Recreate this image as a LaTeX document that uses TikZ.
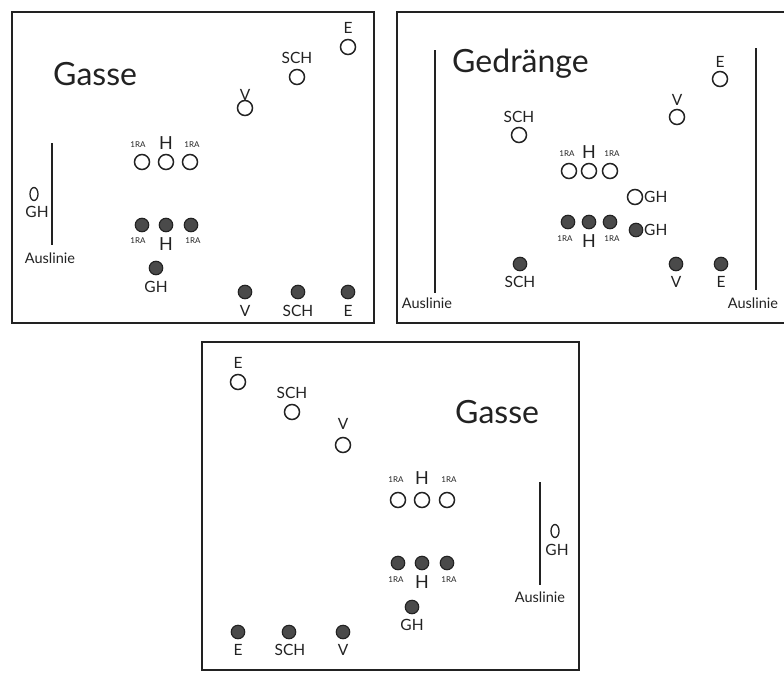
\documentclass[tikz,border=0pt]{standalone}
\usepackage{fontspec}
\setmainfont{Lato}
\definecolor{ink}{HTML}{222222}
\definecolor{dot}{HTML}{4A4A4A}
\tikzset{
  opn/.style={circle,draw=ink,line width=1.5pt,fill=white,minimum size=15pt,inner sep=0pt},
  fld/.style={circle,draw=ink,line width=1.1pt,fill=dot,minimum size=13.5pt,inner sep=0pt},
  oval/.style={ellipse,draw=ink,line width=1.3pt,minimum width=8pt,minimum height=13pt,inner sep=0pt},
  lbl/.style={inner sep=0pt,text=ink,font=\fontsize{15.5}{15.5}\selectfont},
  hl/.style={inner sep=0pt,text=ink,font=\fontsize{18}{18}\selectfont},
  ra/.style={inner sep=0pt,text=ink,font=\fontsize{8}{8}\selectfont},
  aus/.style={inner sep=0pt,text=ink,font=\fontsize{14.5}{14.5}\selectfont},
  ttl/.style={inner sep=0pt,text=ink,anchor=base west,font=\fontsize{32}{32}\selectfont},
  frame/.style={draw=ink,line width=2.4pt},
  aline/.style={draw=ink,line width=2.2pt}
}
\usetikzlibrary{shapes.geometric}
\begin{document}
\begin{tikzpicture}[x=1pt,y=-1pt]
\useasboundingbox (0,0) rectangle (784,672);
\fill[white] (0,0) rectangle (784,672);
\begin{scope}
\clip (0,0) rectangle (784,672);
% ---------- Panel 1 ----------
\draw[frame] (12,12) rectangle (374,323);
\node[ttl] (t1) at (53,85) {Gasse};
\node[lbl] (l1e) at (348,28) {E};
\node[opn] (o1e) at (348,47) {};
\node[lbl] (l1s) at (297,58) {SCH};
\node[opn] (o1s) at (297,77) {};
\node[lbl] (l1v) at (245,95) {V};
\node[opn] (o1v) at (245,108) {};
\node[ra] (l1ra) at (138,145) {1RA};
\node[hl] (l1h) at (166,143) {H};
\node[ra] (l1rb) at (192,145) {1RA};
\node[opn] (o1a) at (142,162) {};
\node[opn] (o1h) at (166,162) {};
\node[opn] (o1b) at (190,162) {};
\coordinate (a1t) at (52,143);
\coordinate (a1b) at (52,245);
\draw[aline] (a1t) -- (a1b);
\node[oval] (o1g) at (34,194) {};
\node[lbl] (l1g) at (37,212) {GH};
\node[aus] (au1) at (50,258) {Auslinie};
\node[fld] (f1a) at (142,225) {};
\node[fld] (f1h) at (166,225) {};
\node[fld] (f1b) at (191,225) {};
\node[ra] (m1ra) at (138,241) {1RA};
\node[hl] (m1h) at (166,244) {H};
\node[ra] (m1rb) at (193,241) {1RA};
\node[fld] (f1g) at (156,268) {};
\node[lbl] (m1g) at (156,287) {GH};
\node[fld] (f1v) at (245,292) {};
\node[fld] (f1s) at (298,292) {};
\node[fld] (f1e) at (348,292) {};
\node[lbl] (m1v) at (245,311) {V};
\node[lbl] (m1s) at (298,311) {SCH};
\node[lbl] (m1e) at (348,311) {E};
% ---------- Panel 2 ----------
\draw[frame] (397,12) rectangle (800,323);
\coordinate (a2t) at (435,50);
\coordinate (a2b) at (435,293);
\draw[aline] (a2t) -- (a2b);
\node[aus] (au2) at (427,303) {Auslinie};
\coordinate (a3t) at (756,48);
\coordinate (a3b) at (756,290);
\draw[aline] (a3t) -- (a3b);
\node[aus] (au3) at (753,303) {Auslinie};
\node[ttl] (t2) at (452,72) {Gedränge};
\node[lbl] (l2e) at (720,62) {E};
\node[opn] (o2e) at (720,79) {};
\node[lbl] (l2v) at (677,100) {V};
\node[opn] (o2v) at (677,117) {};
\node[lbl] (l2s) at (519,117) {SCH};
\node[opn] (o2s) at (519,135) {};
\node[ra] (l2ra) at (567,154) {1RA};
\node[hl] (l2h) at (589,152) {H};
\node[ra] (l2rb) at (612,154) {1RA};
\node[opn] (o2a) at (569,171) {};
\node[opn] (o2h) at (589,171) {};
\node[opn] (o2b) at (610,171) {};
\node[opn] (o2g) at (635,197) {};
\node[lbl,anchor=west] (l2g) at (644,197) {GH};
\node[fld] (f2a) at (568,222) {};
\node[fld] (f2h) at (589,222) {};
\node[fld] (f2b) at (610,222) {};
\node[ra] (m2ra) at (565,239) {1RA};
\node[hl] (m2h) at (589,241) {H};
\node[ra] (m2rb) at (612,239) {1RA};
\node[fld] (f2g) at (636,230) {};
\node[lbl,anchor=west] (m2g) at (644,230) {GH};
\node[fld] (f2s) at (520,264) {};
\node[lbl] (m2s) at (520,282) {SCH};
\node[fld] (f2v) at (676,264) {};
\node[lbl] (m2v) at (676,282) {V};
\node[fld] (f2e) at (721,264) {};
\node[lbl] (m2e) at (721,282) {E};
% ---------- Panel 3 ----------
\draw[frame] (202,342) rectangle (579,670);
\node[lbl] (l3e) at (238,363) {E};
\node[opn] (o3e) at (238,382) {};
\node[lbl] (l3s) at (292,393) {SCH};
\node[opn] (o3s) at (292,412) {};
\node[lbl] (l3v) at (343,424) {V};
\node[opn] (o3v) at (343,445) {};
\node[ttl] (t3) at (455,423) {Gasse};
\node[ra] (l3ra) at (396,480) {1RA};
\node[hl] (l3h) at (422,478) {H};
\node[ra] (l3rb) at (449,480) {1RA};
\node[opn] (o3a) at (398,500) {};
\node[opn] (o3h) at (422,500) {};
\node[opn] (o3b) at (447,500) {};
\coordinate (a4t) at (540,482);
\coordinate (a4b) at (540,585);
\draw[aline] (a4t) -- (a4b);
\node[oval] (o3g) at (555,531) {};
\node[lbl] (l3g) at (557,550) {GH};
\node[aus] (au4) at (540,597) {Auslinie};
\node[fld] (f3a) at (398,563) {};
\node[fld] (f3h) at (422,563) {};
\node[fld] (f3b) at (447,563) {};
\node[ra] (m3ra) at (396,580) {1RA};
\node[hl] (m3h) at (422,582) {H};
\node[ra] (m3rb) at (449,580) {1RA};
\node[fld] (f3g) at (412,607) {};
\node[lbl] (m3g) at (412,625) {GH};
\node[fld] (f3e) at (238,632) {};
\node[lbl] (m3e) at (238,650) {E};
\node[fld] (f3s) at (289,632) {};
\node[lbl] (m3s) at (290,650) {SCH};
\node[fld] (f3v) at (343,632) {};
\node[lbl] (m3v) at (343,650) {V};
\end{scope}
\end{tikzpicture}
\end{document}
